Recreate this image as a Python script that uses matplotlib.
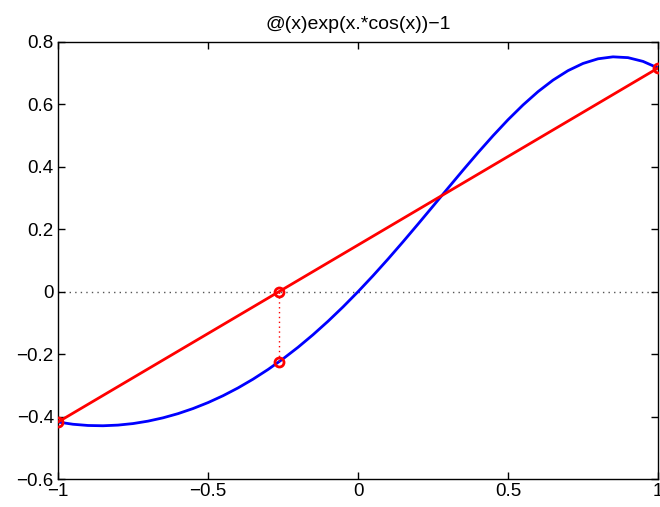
import matplotlib
matplotlib.use("Agg")
import matplotlib.pyplot as plt

# curve samples
curve_x = [-1.0, -0.95, -0.9, -0.85, -0.8, -0.75, -0.7, -0.65, -0.6, -0.55, -0.5,
           -0.45, -0.4, -0.35, -0.3, -0.25, -0.2, -0.15, -0.1, -0.05, 0.0,
           0.05, 0.1, 0.15, 0.2, 0.25, 0.3, 0.35, 0.4, 0.45, 0.5,
           0.55, 0.6, 0.65, 0.7, 0.75, 0.8, 0.85, 0.9, 0.95, 1.0]
curve_y = [-0.4174, -0.4246, -0.4285, -0.4294, -0.4273, -0.4224, -0.4146, -0.4040, -0.3906, -0.3743, -0.3552,
           -0.3332, -0.3082, -0.2802, -0.2492, -0.2151, -0.1780, -0.1378, -0.0947, -0.0487, 0.0,
           0.0512, 0.1046, 0.1599, 0.2166, 0.2741, 0.3319, 0.3893, 0.4455, 0.4996, 0.5509,
           0.5982, 0.6409, 0.6778, 0.7082, 0.7312, 0.7461, 0.7524, 0.7498, 0.7378, 0.7166]

# secant endpoints
secant_x = [-1.0, 1.0]
secant_y = [-0.4174, 0.7166]

# secant root and curve value there
root_x = [-0.2638, -0.2638]
root_y = [0.0, -0.2248]

x_ticks = [-1, -0.5, 0, 0.5, 1]
x_labels = ["\u22121", "\u22120.5", "0", "0.5", "1"]
y_ticks = [-0.6, -0.4, -0.2, 0, 0.2, 0.4, 0.6, 0.8]
y_labels = ["\u22120.6", "\u22120.4", "\u22120.2", "0", "0.2", "0.4", "0.6", "0.8"]

plt.rcParams['font.family'] = ['Liberation Sans', 'DejaVu Sans']

fig = plt.figure(figsize=(6.6, 5.07), dpi=100)
ax = fig.add_axes([0.0879, 0.0552, 0.9091, 0.8620])

ax.plot([-1, 1], [0, 0], linestyle=(0, (1, 3)), color='#555555', linewidth=1.0, zorder=1)
ax.plot(curve_x, curve_y, color=(0, 0, 1), linewidth=2.0, zorder=2)
ax.plot(secant_x, secant_y, color=(1, 0, 0), linewidth=2.0, zorder=3)
ax.plot(root_x, root_y, color=(1, 0, 0), linestyle=(0, (1, 2.5)), linewidth=1.0, zorder=3)
ax.plot(secant_x, secant_y, linestyle='none', marker='o', markersize=6.5,
        markerfacecolor='none', markeredgecolor=(1, 0, 0), markeredgewidth=2.0, zorder=4)
ax.plot(root_x, root_y, linestyle='none', marker='o', markersize=6.5,
        markerfacecolor='none', markeredgecolor=(1, 0, 0), markeredgewidth=2.0, zorder=4)

ax.set_xlim(-1, 1)
ax.set_ylim(-0.6, 0.8)
ax.set_xticks(x_ticks)
ax.set_xticklabels(x_labels)
ax.set_yticks(y_ticks)
ax.set_yticklabels(y_labels)
ax.tick_params(direction='in', top=True, right=True, labelsize=13.5, length=5, width=1, pad=3)
for s in ax.spines.values():
    s.set_linewidth(1.0)
ax.set_title("@(x)exp(x.*cos(x))\u22121", fontsize=14, pad=9)

fig.savefig("out.png", dpi=100)
